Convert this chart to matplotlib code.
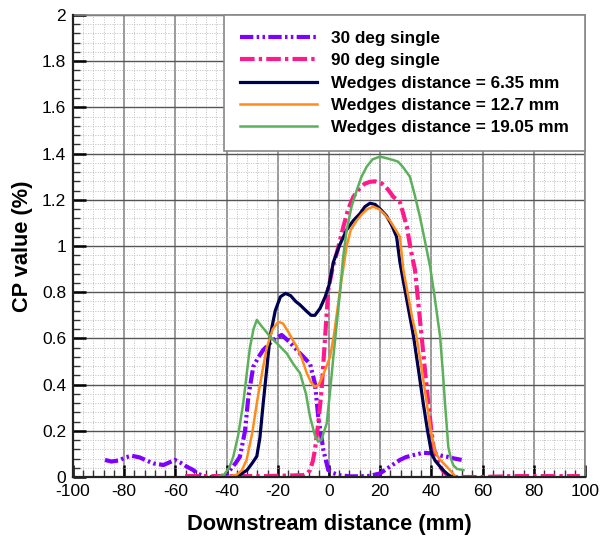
import matplotlib
matplotlib.use("Agg")
import matplotlib.pyplot as plt
from matplotlib.ticker import MultipleLocator

plt.rcParams['font.family'] = ['Liberation Sans', 'DejaVu Sans']
plt.rcParams['axes.unicode_minus'] = False

# ---- data ----
x_30 = [-87.5, -85, -82, -79.5, -77.1, -74, -71, -68.6, -64.7, -62, -60.2, -58, -55.6, -53, -51.7, -49, -47.8,
        -44, -40, -38.7, -36.5, -34.8, -32.8, -31.5, -29.6, -27.5, -25.7, -21.8, -18.5, -15.5, -12.6, -10, -7.4,
        -5.5, -4.2, -2.2, -0.3, 1.7, 4, 8.2, 12, 16, 20, 23.8, 27.7, 30, 33, 36.8, 40.8, 44, 46, 49, 51.8]
y_30 = [0.074, 0.067, 0.072, 0.085, 0.092, 0.085, 0.07, 0.059, 0.052, 0.065, 0.074, 0.062, 0.045, 0.03, 0.016,
        0.005, 0.0, 0.0, 0.01, 0.03, 0.06, 0.088, 0.2, 0.348, 0.477, 0.52, 0.55, 0.593, 0.615, 0.585, 0.55, 0.52,
        0.49, 0.405, 0.261, 0.117, 0.03, 0.017, 0.008, 0.003, 0.003, 0.005, 0.016, 0.045, 0.074, 0.086, 0.095,
        0.105, 0.102, 0.092, 0.088, 0.08, 0.074]

x_90 = [-56.2, -40, -25, -10, -8.5, -7.4, -6.3, -5.5, -4.2, -2.9, -1.6, -0.3, 1.5, 3, 5.6, 7.5, 9.5, 12, 14, 16,
        18, 20.6, 23, 25.1, 27.7, 29, 30.4, 32, 33.6, 35, 36.2, 37.5, 38.8, 40, 40.8, 42, 43.4, 45, 46, 47,
        60, 72, 85, 98]
y_90 = [0.004, 0.004, 0.004, 0.008, 0.015, 0.03, 0.07, 0.117, 0.232, 0.377, 0.593, 0.81, 0.91, 0.968, 1.083,
        1.16, 1.213, 1.25, 1.27, 1.278, 1.28, 1.271, 1.245, 1.213, 1.19, 1.14, 1.083, 0.98, 0.896, 0.74, 0.607,
        0.46, 0.319, 0.2, 0.131, 0.08, 0.045, 0.02, 0.01, 0.0, 0.0, 0.004, 0.004, 0.004]

x_635 = [-36, -34.8, -32, -30, -28.2, -27, -25.7, -24.3, -23, -21, -19, -17, -15, -13, -11.3, -9, -7, -5.5,
         -3.5, -1.5, 0, 1.7, 4, 6.9, 9.5, 12.1, 14, 16, 18, 20, 22.5, 24.5, 26.4, 27.7, 29, 31, 33, 35, 36.8,
         38.5, 40.1, 41.5, 43.4, 45, 46.6, 48]
y_635 = [0.0, 0.01, 0.03, 0.06, 0.09, 0.17, 0.32, 0.47, 0.61, 0.72, 0.78, 0.795, 0.785, 0.76, 0.745, 0.72, 0.70,
         0.70, 0.73, 0.78, 0.83, 0.93, 1.0, 1.07, 1.11, 1.14, 1.17, 1.185, 1.18, 1.16, 1.13, 1.09, 1.04, 0.93,
         0.85, 0.73, 0.61, 0.46, 0.32, 0.2, 0.10, 0.07, 0.045, 0.025, 0.01, 0.0]

x_127 = [-40, -36, -34, -32.2, -30, -28.2, -26, -24.3, -22, -19.8, -18, -16, -14, -12.6, -10.5, -8.7, -7, -5.5,
         -4, -2, 0.4, 2, 4.3, 6.9, 8.5, 10.8, 13, 15, 17.3, 19.5, 21.5, 23.8, 25.5, 27.7, 29, 31, 32.5, 34.2, 36,
         38.2, 39.8, 41.4, 43, 46, 48, 49.6]
y_127 = [0.0, 0.01, 0.03, 0.074, 0.19, 0.32, 0.46, 0.56, 0.64, 0.672, 0.665, 0.63, 0.59, 0.564, 0.51, 0.45,
         0.41, 0.39, 0.40, 0.45, 0.52, 0.62, 0.81, 1.0, 1.07, 1.11, 1.14, 1.16, 1.17, 1.16, 1.14, 1.11, 1.08,
         1.04, 0.90, 0.78, 0.69, 0.607, 0.48, 0.32, 0.2, 0.11, 0.08, 0.045, 0.02, 0.0]

x_1905 = [-44, -41, -39, -37.4, -35.5, -33.5, -32, -30.9, -29.5, -28.2, -26.5, -25, -23, -20, -16.5, -14, -11.3,
          -9, -7.4, -5.5, -4.2, -3, -0.9, 0.5, 1.7, 3, 4.3, 5.5, 6.9, 8.8, 10.8, 12.7, 14.7, 17, 19.9, 22.5,
          25.1, 27, 29, 31.6, 33.5, 35.5, 37.5, 39.5, 41, 42, 43.4, 44.5, 45.3, 46, 46.6, 47.6, 48.6, 50, 52.5]
y_1905 = [0.0, 0.01, 0.04, 0.088, 0.18, 0.32, 0.46, 0.56, 0.64, 0.68, 0.655, 0.635, 0.607, 0.575, 0.535, 0.49,
          0.449, 0.36, 0.26, 0.18, 0.153, 0.16, 0.232, 0.38, 0.52, 0.66, 0.80, 0.95, 1.07, 1.17, 1.24, 1.30,
          1.343, 1.375, 1.387, 1.38, 1.372, 1.365, 1.34, 1.30, 1.22, 1.127, 1.02, 0.91, 0.80, 0.72, 0.607, 0.45,
          0.32, 0.22, 0.13, 0.08, 0.05, 0.035, 0.03]

labels = ["30 deg single", "90 deg single", "Wedges distance = 6.35 mm",
          "Wedges distance = 12.7 mm", "Wedges distance = 19.05 mm"]
ytick_vals = [0, 0.2, 0.4, 0.6, 0.8, 1, 1.2, 1.4, 1.6, 1.8, 2]
ytick_labels = ["0", "0.2", "0.4", "0.6", "0.8", "1", "1.2", "1.4", "1.6", "1.8", "2"]

fig = plt.figure(figsize=(6.0, 5.39), dpi=100)
ax = fig.add_axes([0.1217, 0.115, 0.8533, 0.8572])

ax.plot(x_30, y_30, color='#8000FF', lw=3.0, linestyle=(0, (3.2, 0.8, 0.6, 0.8, 0.6, 0.8)),
        label=labels[0], zorder=3)
ax.plot(x_90, y_90, color='#FF1A8C', lw=3.0, linestyle=(0, (3.5, 1.0, 0.8, 1.0)),
        label=labels[1], zorder=3)
ax.plot(x_635, y_635, color='#000050', lw=2.3, label=labels[2], zorder=4)
ax.plot(x_127, y_127, color='#FF8C1A', lw=1.8, label=labels[3], zorder=4)
ax.plot(x_1905, y_1905, color='#5CB05C', lw=1.8, label=labels[4], zorder=4)

ax.set_xlim(-100, 100)
ax.set_ylim(0, 2)
ax.xaxis.set_major_locator(MultipleLocator(20))
ax.xaxis.set_minor_locator(MultipleLocator(4))
ax.yaxis.set_minor_locator(MultipleLocator(0.04))
ax.set_yticks(ytick_vals)
ax.set_yticklabels(ytick_labels)

ax.grid(which='minor', color='#c0c0c0', linestyle=(0, (1, 1.5)), linewidth=0.7)
ax.grid(which='major', axis='y', color='#555555', linestyle='-', linewidth=1.0)
ax.grid(which='major', axis='x', color='#9a9a9a', linestyle='-', linewidth=1.4)
ax.set_axisbelow(True)

ax.tick_params(which='major', direction='in', length=9, width=1.8, color='black',
               labelsize=12.5, top=False, right=False, pad=5)
ax.tick_params(axis='y', which='major', pad=5)
ax.tick_params(which='minor', direction='in', length=5, width=1.0, color='#333333',
               top=False, right=False)

for s in ['top', 'right']:
    ax.spines[s].set_color('#888888')
    ax.spines[s].set_linewidth(1.2)
for s in ['left', 'bottom']:
    ax.spines[s].set_color('#222222')
    ax.spines[s].set_linewidth(1.6)
    ax.spines[s].set_zorder(5)

ax.set_xlabel("Downstream distance (mm)", fontsize=15.7, fontweight='bold', labelpad=11)
ax.set_ylabel("CP value (%)", fontsize=15.7, fontweight='bold', labelpad=6)

leg = ax.legend(loc='upper right', bbox_to_anchor=(1.0, 1.0), borderaxespad=0.0,
                prop={'size': 12.3, 'weight': 'bold'}, handlelength=4.5, handletextpad=0.8,
                labelspacing=0.42, borderpad=0.95, fancybox=False, framealpha=1.0,
                edgecolor='#888888')
leg.get_frame().set_linewidth(1.2)
leg.set_zorder(10)

fig.savefig("out.png", dpi=100)
